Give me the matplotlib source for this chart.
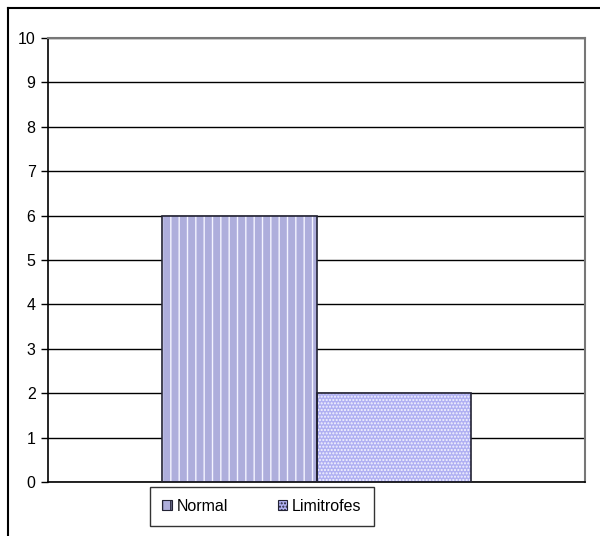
import matplotlib
matplotlib.use("Agg")
import matplotlib.pyplot as plt
from matplotlib.patches import Patch
from matplotlib.lines import Line2D

categories = ["Normal", "Limitrofes"]
values = [6, 2]
y_ticks = list(range(0, 11))

plt.rcParams['font.family'] = ['Liberation Sans', 'DejaVu Sans']
plt.rcParams['hatch.linewidth'] = 1.0

W, H = 600, 536
fig = plt.figure(figsize=(W / 100, H / 100), dpi=100)
ax = fig.add_axes([48 / W, 1 - 482 / H, (585 - 48) / W, (482 - 38) / H])

face = ['#aeaedc', '#b0b0f2']
hatches = ['||', '.....']
width = 0.287
xs = [-width / 2, width / 2]

for y in y_ticks:
    ax.axhline(y, color='black', lw=1, zorder=1)

for x, v, fc, h in zip(xs, values, face, hatches):
    ax.bar(x, v, width, color=fc, edgecolor='#f4f4ff', hatch=h, lw=0, zorder=2)
    ax.bar(x, v, width, fill=False, edgecolor='#222233', lw=1.2, zorder=3)

ax.set_xlim(-0.5, 0.5)
ax.set_ylim(0, 10)
ax.set_yticks(y_ticks)
ax.set_xticks([])
ax.tick_params(axis='y', direction='out', length=5, width=1, labelsize=11.5, pad=4)
for s in ['top', 'right']:
    ax.spines[s].set_color('#777777')
    ax.spines[s].set_linewidth(1.5)
ax.spines['left'].set_linewidth(1.2)
ax.spines['bottom'].set_linewidth(1.2)

# outer chart border (only left/top visible in the crop)
fig.add_artist(Line2D([8 / W, 8 / W], [0, 1 - 8 / H], transform=fig.transFigure, color='black', lw=1.5))
fig.add_artist(Line2D([8 / W, 1], [1 - 8 / H, 1 - 8 / H], transform=fig.transFigure, color='black', lw=1.5))

handles = [Patch(facecolor=fc, edgecolor='#222233', hatch=h, lw=0.8) for fc, h in zip(face, hatches)]
leg = fig.legend(handles, categories, loc='center', bbox_to_anchor=(262 / W, 1 - 506.5 / H),
                 ncol=2, frameon=True, fancybox=False, fontsize=11.5, handlelength=0.6,
                 handleheight=0.6, handletextpad=0.3, columnspacing=3.1, borderpad=0.75,
                 borderaxespad=0)
leg.get_frame().set_edgecolor('black')
leg.get_frame().set_linewidth(1)

fig.savefig("out.png", dpi=100)
